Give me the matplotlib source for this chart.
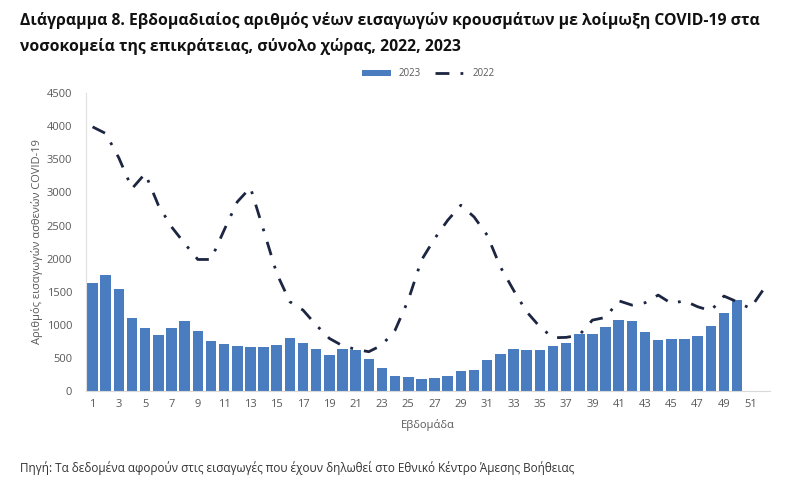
import numpy as np
import matplotlib.pyplot as plt
from matplotlib import font_manager

# --- fonts: narrow sans if present, else fall back ---#
names = {f.name for f in font_manager.fontManager.ttflist}
fam = ['Liberation Sans Narrow'] if 'Liberation Sans Narrow' in names else ['Open Sans']
plt.rcParams['font.family'] = fam + ['DejaVu Sans']

# --- data ---#
weeks_2023 = list(range(1, 51))
adm_2023 = [1635, 1750, 1540, 1107, 951, 840, 946, 1056, 910, 760,
            709, 684, 659, 659, 699, 800, 724, 629, 548, 629,
            614, 483, 347, 221, 206, 181, 196, 221, 297, 317,
            463, 558, 639, 619, 619, 674, 724, 860, 860, 961,
            1071, 1056, 895, 770, 785, 780, 830, 981, 1177, 1373]

weeks_2022 = list(range(1, 53))
adm_2022 = [3990, 3890, 3520, 3058, 3285, 2807, 2480, 2228, 1987, 1987,
            2430, 2857, 3073, 2430, 1776, 1348, 1222, 996, 795, 684,
            629, 594, 694, 920, 1373, 1977, 2300, 2580, 2807, 2630,
            2354, 1876, 1524, 1197, 971, 805, 810, 845, 1071, 1112,
            1363, 1298, 1333, 1449, 1323, 1363, 1273, 1212, 1434, 1348,
            1247, 1534]

xticks = list(range(1, 52, 2))
yticks = list(range(0, 4501, 500))

title = ("Διάγραμμα 8. Εβδομαδιαίος αριθμός νέων εισαγωγών κρουσμάτων με λοίμωξη COVID-19 στα\n"
         "νοσοκομεία της επικράτειας, σύνολο χώρας, 2022, 2023")
ylabel = "Αριθμός εισαγωγών ασθενών COVID-19"
xlabel = "Εβδομάδα"
source = "Πηγή: Τα δεδομένα αφορούν στις εισαγωγές που έχουν δηλωθεί στο Εθνικό Κέντρο Άμεσης Βοήθειας"

grey = '#595959'

fig = plt.figure(figsize=(8, 4.9), dpi=100)
ax = fig.add_axes([0.1075, 0.202, 0.855, 0.608])

bars = ax.bar(weeks_2023, adm_2023, width=0.8, color='#4A7CC0', label='2023', zorder=2)
line, = ax.plot(weeks_2022, adm_2022, color='#1C2541', lw=2.0, linestyle=(0, (5, 4, 1, 4)),
                label='2022', zorder=3)

ax.set_xlim(0.5, 52.5)
ax.set_ylim(0, 4500)
ax.set_xticks(xticks)
ax.set_yticks(yticks)
ax.tick_params(axis='both', length=0, labelsize=8, colors=grey, pad=6)
ax.tick_params(axis='y', pad=10)

for s in ['top', 'right']:
    ax.spines[s].set_visible(False)
ax.spines['left'].set_color('#E0E0E0')
ax.spines['bottom'].set_color('#D9D9D9')

ax.set_ylabel(ylabel, fontsize=8, color=grey)
ax.yaxis.set_label_coords(-0.063, 0.5)
ax.set_xlabel(xlabel, fontsize=8, color=grey, labelpad=6)

leg = ax.legend([bars, line], ['2023', '2022'], loc='lower center', bbox_to_anchor=(0.5, 1.0),
                ncol=2, frameon=False, fontsize=7, handlelength=3, columnspacing=1.5,
                borderaxespad=1.0)
for t in leg.get_texts():
    t.set_color(grey)

fig.text(0.025, 0.975, title, fontsize=11.3, fontweight='bold', color='#111111',
         va='top', ha='left', linespacing=1.7)
fig.text(0.025, 0.03, source, fontsize=8.5, color='#333333', ha='left', va='bottom')

fig.savefig('out.png', dpi=100)
